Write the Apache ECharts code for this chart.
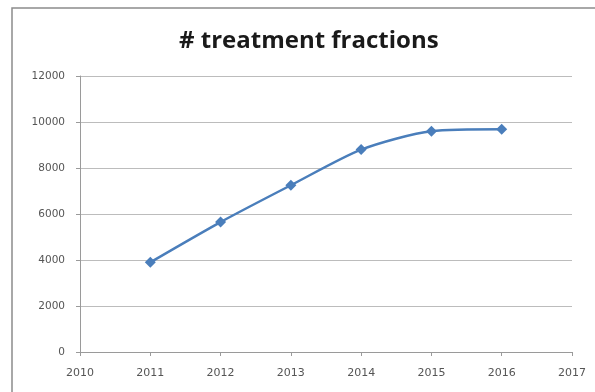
<!DOCTYPE html>
<html><head><meta charset="utf-8">
<script src="https://cdn.jsdelivr.net/npm/echarts@6/dist/echarts.min.js"></script>
<style>html,body{margin:0;padding:0;background:#fff}#c{width:595px;height:392px}</style>
</head><body><div id="c"></div>
<script>
const years = [2011, 2012, 2013, 2014, 2015, 2016];
const fractions = [3900, 5650, 7250, 8800, 9600, 9680];
const xTicks = [2010, 2017];
const yTicks = [0, 12000];
const titleText = '# treatment fractions';

const chart = echarts.init(document.getElementById('c'));
chart.setOption({
  animation: false,
  backgroundColor: '#fff',
  graphic: [{
    type: 'rect', shape: {x: 12, y: 8, width: 600, height: 400},
    style: {fill: 'none', stroke: '#8c8c8c', lineWidth: 1.5}, silent: true
  }],
  title: {
    text: titleText, left: 174, top: 24,
    textStyle: {fontFamily: 'Open Sans', fontWeight: 'bold', fontSize: 24, color: '#1a1a1a'}
  },
  grid: {left: 80, right: 23, top: 76, bottom: 40},
  xAxis: {
    type: 'value', min: xTicks[0], max: xTicks[1], interval: 1,
    axisLine: {show: true, lineStyle: {color: '#9a9a9a'}},
    axisTick: {show: true, length: 4, lineStyle: {color: '#9a9a9a'}},
    splitLine: {show: false},
    axisLabel: {color: '#555', fontSize: 11, fontFamily: 'DejaVu Sans', margin: 16,
      formatter: v => String(v)}
  },
  yAxis: {
    type: 'value', min: yTicks[0], max: yTicks[1], interval: 2000,
    axisLine: {show: true, lineStyle: {color: '#9a9a9a'}},
    axisTick: {show: true, length: 4, lineStyle: {color: '#9a9a9a'}},
    splitLine: {show: true, lineStyle: {color: '#bcbcbc'}},
    axisLabel: {color: '#555', fontSize: 10.5, fontFamily: 'DejaVu Sans', margin: 15,
      formatter: v => String(v)}
  },
  series: [{
    type: 'line', smooth: 0.25,
    data: years.map((y, i) => [y, fractions[i]]),
    symbol: 'diamond', symbolSize: 11,
    lineStyle: {color: '#4a7ebb', width: 2.5},
    itemStyle: {color: '#4a7ebb'}
  }]
});
</script></body></html>
